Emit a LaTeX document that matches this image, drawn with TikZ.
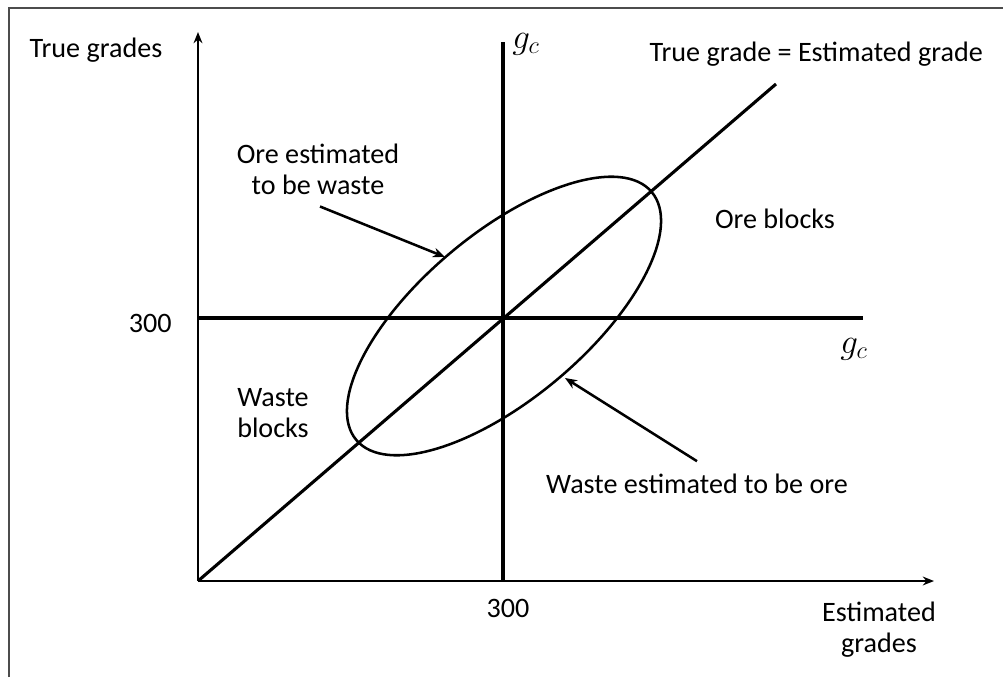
\documentclass[tikz,border=0pt]{standalone}
\usepackage{fontspec}
\setmainfont{Carlito}
\usetikzlibrary{arrows.meta, positioning}
\tikzset{
  etiq/.style={font=\fontsize{20}{21.5}\selectfont, align=center, inner sep=0pt, anchor=base},
  corteetiq/.style={font=\fontsize{25}{25}\selectfont, inner sep=0pt, anchor=center},
  eje/.style={-{Stealth[length=2.8mm, width=2.2mm]}, line width=1.9pt},
  corte/.style={line width=2.6pt},
  diag/.style={line width=2.2pt},
  flecha/.style={-{Stealth[length=3mm, width=2.4mm]}, line width=1.8pt},
  marco/.style={draw=black!70, line width=0.9pt}
}

\begin{document}
\begin{tikzpicture}[x=0.025cm, y=-0.025cm]
  \useasboundingbox (0,0) rectangle (1003,677);
  \draw[marco] (9,677) -- (9,8) -- (1003,8);

  % axes
  \coordinate (orig) at (198,581);
  \coordinate (ytop) at (198,32);
  \coordinate (xend) at (934,581);
  \draw[eje] (orig) -- (ytop);
  \draw[eje] (orig) -- (xend);

  % cut-off lines and 45 degree line
  \coordinate (gcbot) at (503,581);
  \coordinate (gctopend) at (503,42);
  \coordinate (gcleft) at (198,318);
  \coordinate (gcrightend) at (863,318);
  \coordinate (diagend) at (776,84);
  \draw[corte] (gcbot) -- (gctopend);
  \draw[corte] (gcleft) -- (gcrightend);
  \draw[diag] (orig) -- (diagend);

  % scatter ellipse
  \coordinate (centro) at (504,316);
  \draw[line width=1.8pt, rotate around={40:(centro)}]
    (centro) ellipse [x radius=4.82cm, y radius=2.07cm];

  % labels
  \node[etiq] (truegr) at (96,57) {True grades};
  \node[etiq, anchor=base east] (igual) at (983,61) {True grade = Estimated grade};
  \node[corteetiq] (gctop) at (526,44) {$g_c$};
  \node[corteetiq] (gcright) at (854,349) {$g_c$};
  \node[etiq] (oew) at (318,194) {Ore estimated\\to be waste};
  \node[etiq] (oreb) at (775,228) {Ore blocks};
  \node[etiq, anchor=base east] (tresy) at (172,332) {300};
  \node[etiq] (wasteb) at (273,437) {Waste\\blocks};
  \node[etiq] (weo) at (697,493) {Waste estimated to be ore};
  \node[etiq] (tresx) at (508,617) {300};
  \node[etiq] (estgr) at (879,652) {Estimated\\grades};

  % pointers
  \coordinate (oewtip) at (445,257);
  \coordinate (weotip) at (565,378);
  \draw[flecha] ([shift={(2,12)}]oew.south) -- (oewtip);
  \draw[flecha] ([shift={(0,-12)}]weo.north) -- (weotip);
\end{tikzpicture}
\end{document}
